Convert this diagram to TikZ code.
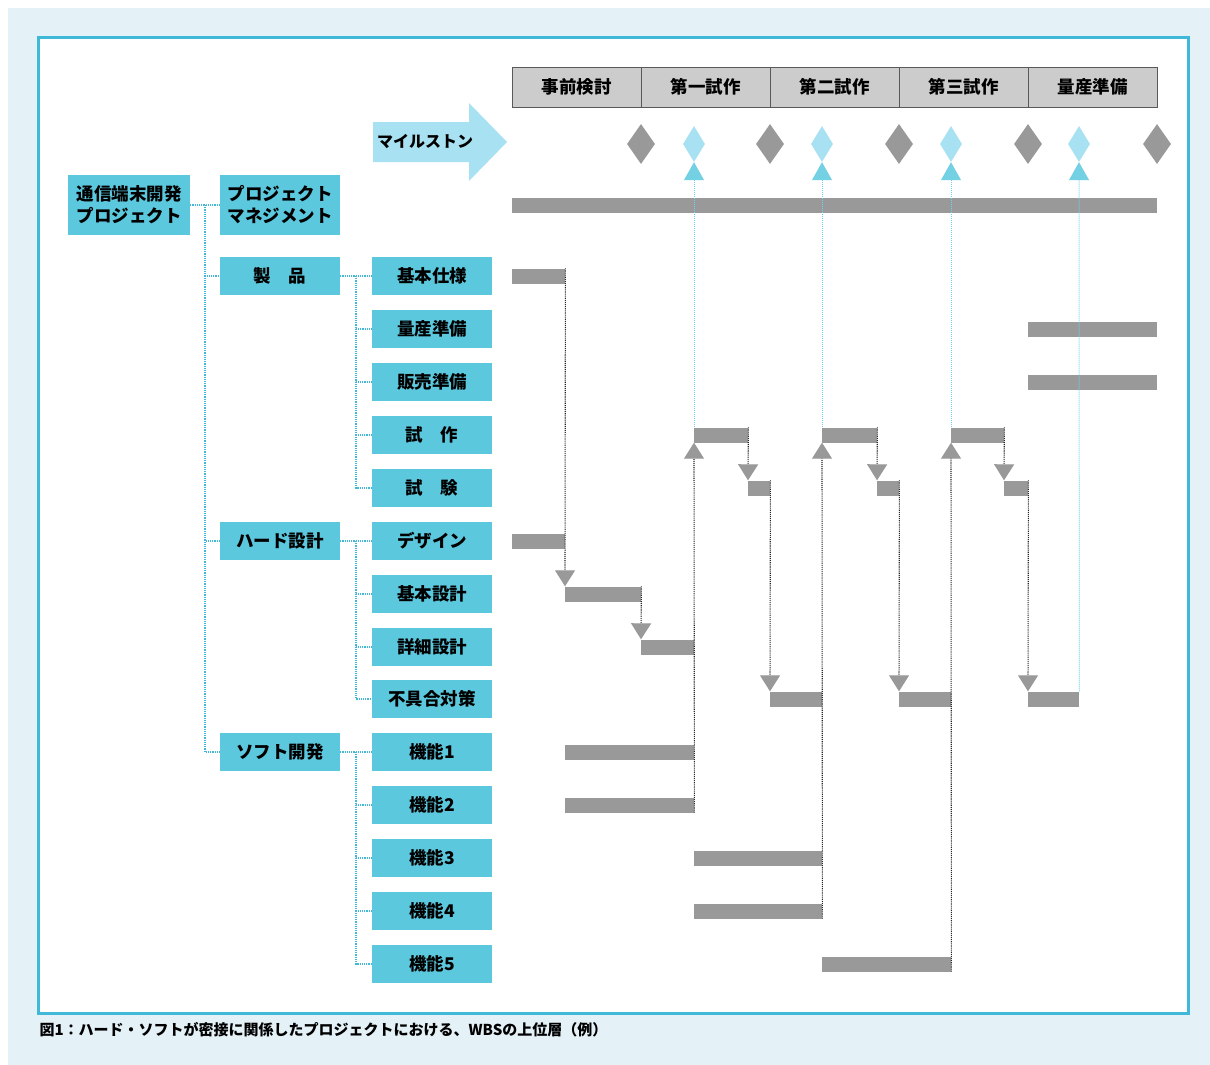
\documentclass[tikz,border=0pt]{standalone}
\usepackage{fontspec}
\setmainfont{Noto Sans CJK JP}
\usetikzlibrary{shapes.geometric, arrows.meta}
\definecolor{wbscyan}{RGB}{92,200,222}
\definecolor{framecyan}{RGB}{64,184,216}
\definecolor{milecyan}{RGB}{168,226,242}
\definecolor{linkcyan}{RGB}{110,212,238}
\definecolor{bgcyan}{RGB}{228,242,248}
\definecolor{bargray}{RGB}{153,153,153}
\definecolor{headgray}{RGB}{204,204,204}

\begin{document}
\begin{tikzpicture}[x=1pt, y=-1pt,
    wbs/.style={fill=wbscyan, minimum width=120pt, minimum height=38pt, inner sep=1pt, align=center, font=\fontsize{17.5}{22}\selectfont\bfseries},
    phase/.style={draw=black!65, line width=0.8pt, fill=headgray, minimum width=129pt, minimum height=40pt, font=\fontsize{17.5}{20}\selectfont\bfseries},
    bar/.style={fill=bargray, minimum height=15pt, inner sep=0pt, anchor=west},
    msgray/.style={diamond, fill=bargray, inner sep=0pt, minimum width=28pt, minimum height=40pt},
    mscyan/.style={diamond, fill=milecyan, inner sep=0pt, minimum width=22pt, minimum height=36pt},
    tree/.style={densely dotted, framecyan, line width=1.2pt},
    dep/.style={densely dotted, black!85, line width=1.1pt, -{Triangle[width=20pt, length=16pt, color=bargray]}},
    link/.style={densely dotted, linkcyan, line width=1pt, -{Triangle[width=20pt, length=18pt, color=wbscyan!85]}}]

    \useasboundingbox (0,0) rectangle (1210,1065);

    % 背景と枠
    \fill[bgcyan] (8,8) rectangle (1210,1065);
    \filldraw[fill=white, draw=framecyan, line width=3pt] (38,38) rectangle (1188,1013);

    % 工程
    \foreach \i/\t in {1/事前検討, 2/第一試作, 3/第二試作, 4/第三試作, 5/量産準備} {
        \pgfmathsetmacro{\x}{447.5+129*\i}
        \node[phase] (ph\i) at (\x, 87) {\t};
    }

    % マイルストン
    \fill[milecyan] (373,122) -- (469,122) -- (469,103) -- (507,142) -- (469,181) -- (469,162) -- (373,162) -- cycle;
    \node[font=\fontsize{16}{18}\selectfont\bfseries] (mslabel) at (425,142) {マイルストン};
    \foreach \i in {1,...,5} {
        \pgfmathsetmacro{\x}{512+129*\i}
        \node[msgray] (mg\i) at (\x, 144) {};
    }
    \foreach \i/\x in {1/694, 2/822, 3/951, 4/1079} {
        \node[mscyan] (mc\i) at (\x, 144) {};
    }

    % WBS
    \node[wbs, minimum width=122pt, minimum height=60pt] (root) at (129, 205) {通信端末開発\\プロジェクト};
    \node[wbs, minimum height=60pt] (pm) at (280, 205) {プロジェクト\\マネジメント};
    \node[wbs] (prod) at (280, 276) {製　品};
    \node[wbs] (hard) at (280, 541) {ハード設計};
    \node[wbs] (soft) at (280, 752) {ソフト開発};

    \foreach \n/\t/\y in {spec/基本仕様/276, mass/量産準備/329, sales/販売準備/382, proto/試　作/435, test/試　験/488,
                          design/デザイン/541, basic/基本設計/594, detail/詳細設計/647, fix/不具合対策/699,
                          f1/機能1/752, f2/機能2/805, f3/機能3/858, f4/機能4/911, f5/機能5/964} {
        \node[wbs] (\n) at (432, \y) {\t};
    }

    \draw[tree] (root.east) -- (pm.west);
    \coordinate (j0) at (205, 205);
    \foreach \n in {prod, hard, soft} {
        \draw[tree] (j0) |- (\n.west);
    }
    \draw[tree] (prod.east) -- (spec.west);
    \coordinate (j1) at (356, 276);
    \foreach \n in {mass, sales, proto, test} {
        \draw[tree] (j1) |- (\n.west);
    }
    \draw[tree] (hard.east) -- (design.west);
    \coordinate (j2) at (356, 541);
    \foreach \n in {basic, detail, fix} {
        \draw[tree] (j2) |- (\n.west);
    }
    \draw[tree] (soft.east) -- (f1.west);
    \coordinate (j3) at (356, 752);
    \foreach \n in {f2, f3, f4, f5} {
        \draw[tree] (j3) |- (\n.west);
    }

    % 線表
    \foreach \n/\x/\w/\y in {gpm/512/645/205, gspec/512/53/276, gmass/1028/129/329, gsales/1028/129/382,
                             gproto1/694/54/435, gproto2/822/55/435, gproto3/951/53/435,
                             gtest1/748/22/488, gtest2/877/22/488, gtest3/1004/24/488,
                             gdesign/512/53/541, gbasic/565/76/594, gdetail/641/53/647,
                             gfix1/770/52/699, gfix2/899/52/699, gfix3/1028/51/699,
                             gf1/565/129/752, gf2/565/129/805, gf3/694/128/858, gf4/694/128/911, gf5/822/129/964} {
        \node[bar, minimum width=\w pt] (\n) at (\x, \y) {};
    }

    % 依存関係
    \draw[dep] (gspec.north east) -- (gbasic.north west);
    \draw[dep] (gbasic.north east) -- (gdetail.north west);
    \foreach \i/\f in {1/gf2, 2/gf4, 3/gf5} {
        \draw[dep] (\f.south east) -- (gproto\i.south west);
        \draw[dep] (gproto\i.north east) -- (gtest\i.north west);
        \draw[dep] (gtest\i.north east) -- (gfix\i.north west);
        \draw[link] (gproto\i.north west) -- (mc\i.south);
    }
    \draw[link] (gfix3.north east) -- (mc4.south);

    % 図の説明
    \node[anchor=west, font=\fontsize{15}{17}\selectfont\bfseries] (caption) at (36, 1030) {図1：ハード・ソフトが密接に関係したプロジェクトにおける、WBSの上位層（例）};

\end{tikzpicture}
\end{document}
